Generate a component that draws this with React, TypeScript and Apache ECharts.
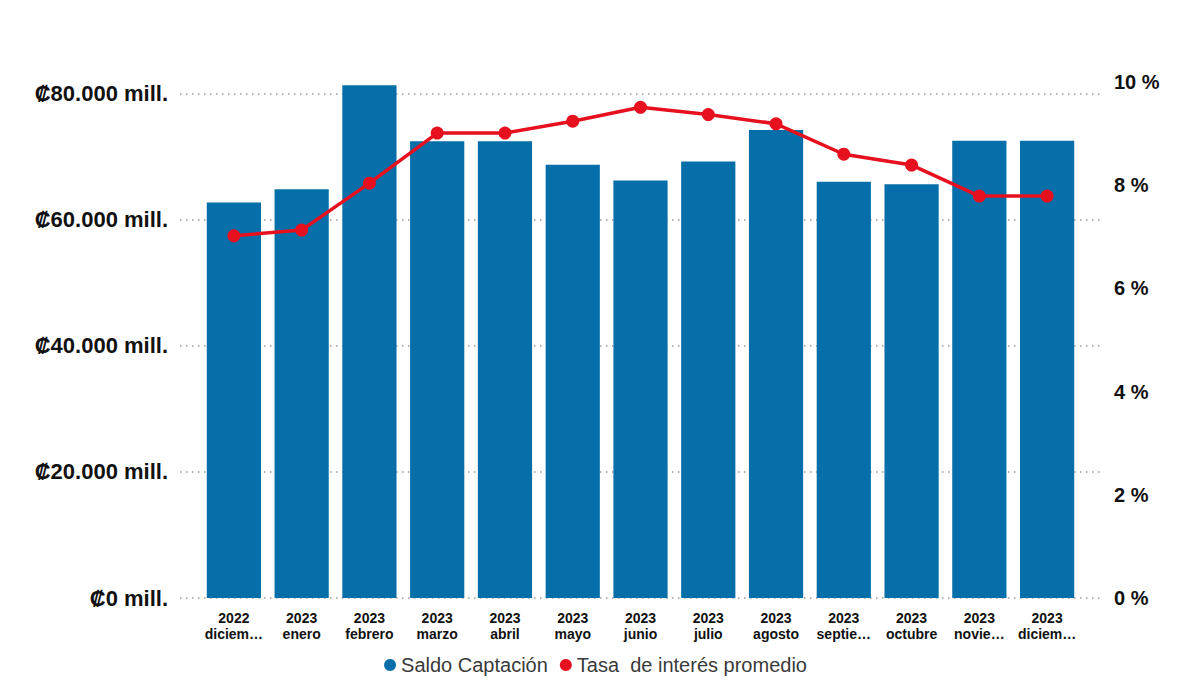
import React, { useEffect, useRef } from 'react';
import * as echarts from 'echarts';

const years = ['2022', '2023', '2023', '2023', '2023', '2023', '2023', '2023', '2023', '2023', '2023', '2023', '2023'];
// month labels as shown (truncated) on the axis
const months = ['diciem…', 'enero', 'febrero', 'marzo', 'abril', 'mayo', 'junio', 'julio', 'agosto', 'septie…', 'octubre', 'novie…', 'diciem…'];
// Saldo Captación (colones)
const saldo = [62700, 64800, 81300, 72400, 72400, 68700, 66200, 69200, 74200, 66000, 65600, 72500, 72500];
// Tasa de interés promedio (%)
const tasa = [7.02, 7.13, 8.04, 9.01, 9.01, 9.24, 9.51, 9.37, 9.19, 8.6, 8.39, 7.79, 7.79];
const leftTicks = [0, 20000, 40000, 60000, 80000];

const FONT = 'Arial, "Liberation Sans", sans-serif';
const BLUE = '#066FAA';
const RED = '#E6101E';

const fmtMill = (v: number) => '₡' + v.toLocaleString('de-DE') + ' mill.';

const App: React.FC = () => {
  const chartRef = useRef<HTMLDivElement>(null);

  useEffect(() => {
    if (!chartRef.current) return;
    const chart = echarts.init(chartRef.current, undefined, { renderer: 'svg' });

    const leftMax = 81800;

    const option: any = {
      animation: false,
      textStyle: { fontFamily: FONT },
      legend: {
        bottom: 19,
        left: 'center',
        icon: 'circle',
        itemWidth: 12,
        itemHeight: 12,
        itemGap: 12,
        textStyle: { fontSize: 20, color: '#3a3a3a', fontFamily: FONT },
        data: ['Saldo Captación', 'Tasa  de interés promedio']
      },
      grid: [
        { left: 200, right: 110, top: 82, bottom: 101 },
        { left: 180, right: 90, top: 82, bottom: 101 }
      ],
      xAxis: [
        {
          type: 'category',
          gridIndex: 0,
          data: years.map((y, i) => y + '\n' + months[i]),
          axisLine: { show: false },
          axisTick: { show: false },
          axisLabel: {
            margin: 12,
            fontSize: 14,
            fontWeight: 'bold',
            color: '#111',
            lineHeight: 16,
            interval: 0
          }
        },
        { type: 'value', gridIndex: 1, show: false, min: 0, max: 1 }
      ],
      yAxis: [
        { type: 'value', gridIndex: 0, min: 0, max: leftMax, show: false, splitLine: { show: false } },
        {
          type: 'value',
          gridIndex: 0,
          position: 'right',
          min: 0,
          max: 10,
          interval: 2,
          axisLine: { show: false },
          axisTick: { show: false },
          splitLine: { show: false },
          axisLabel: {
            margin: 33,
            fontSize: 20,
            fontWeight: 'bold',
            color: '#111',
            formatter: (v: number) => v + ' %'
          }
        },
        {
          type: 'value',
          gridIndex: 1,
          min: 0,
          max: leftMax,
          interval: 20000,
          axisLine: { show: false },
          axisTick: { show: false },
          axisLabel: {
            margin: 12,
            fontSize: 22,
            fontWeight: 'bold',
            color: '#111',
            showMaxLabel: false,
            formatter: (v: number) => (leftTicks.includes(v) ? fmtMill(v) : '')
          },
          splitLine: {
            show: true,
            showMaxLine: false,
            lineStyle: { color: '#9a9a9a', width: 1.5, type: [1.5, 4.5] }
          }
        }
      ],
      series: [
        {
          name: 'Saldo Captación',
          type: 'bar',
          xAxisIndex: 0,
          yAxisIndex: 0,
          data: saldo,
          barCategoryGap: '20%',
          itemStyle: { color: BLUE },
          z: 2
        },
        {
          name: 'Tasa  de interés promedio',
          type: 'line',
          xAxisIndex: 0,
          yAxisIndex: 1,
          data: tasa,
          symbol: 'circle',
          symbolSize: 13,
          itemStyle: { color: RED },
          lineStyle: { color: RED, width: 3.5 },
          z: 3
        }
      ]
    };

    chart.setOption(option);

    const handleResize = () => chart.resize();
    window.addEventListener('resize', handleResize);
    return () => {
      window.removeEventListener('resize', handleResize);
      chart.dispose();
    };
  }, []);

  return (
    <div style={{ position: 'absolute', left: 0, top: 0, width: 1191, height: 699, background: '#fff' }}>
      <div ref={chartRef} style={{ width: '100%', height: '100%' }} />
    </div>
  );
};

export default App;
